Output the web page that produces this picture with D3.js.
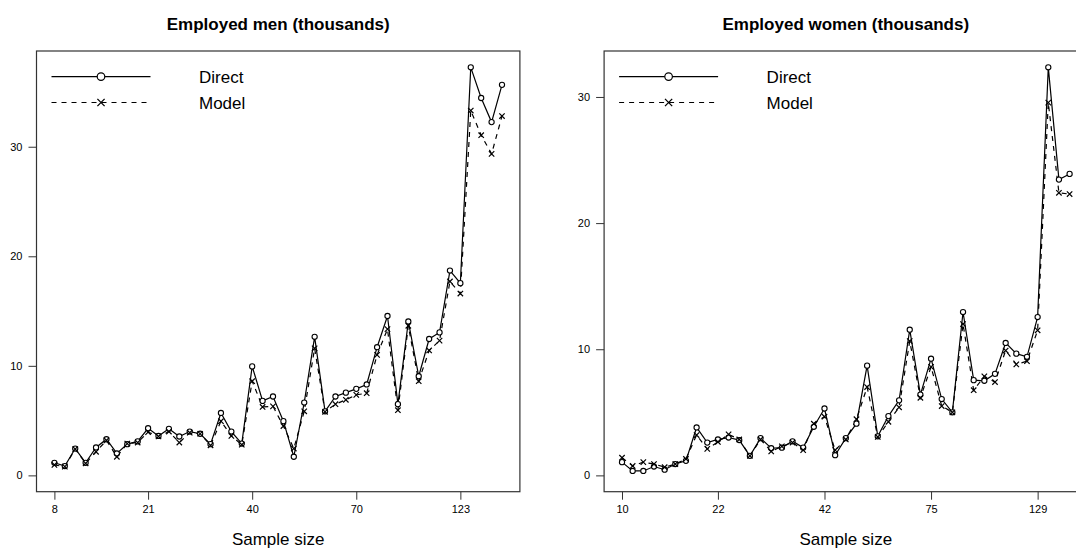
<!DOCTYPE html>
<html>
<head>
<meta charset="utf-8">
<script src="https://cdn.jsdelivr.net/npm/d3@7"></script>
<style>
  body { margin: 0; background: #fff; }
  svg { display: block; font-family: "Liberation Sans", Arial, sans-serif; }
  .line { fill: none; stroke: #000; stroke-width: 1.2; }
  .dashed { stroke-dasharray: 5,5; }
  .tick text { font-size: 11px; fill: #000; }
</style>
</head>
<body>
<div id="chart"></div>
<script>
(function employment() {

  // x axis: points are plotted by rank, a few are labelled with their sample size
  var tickIndex = [0, 9, 19, 29, 39];
  var yTicks = [0, 10, 20, 30];

  var menTickLabels = ["8", "21", "40", "70", "123"];
  var menDirect = [1.15, 0.85, 2.45, 1.15, 2.55, 3.3, 2.0, 2.85, 3.1, 4.3,
    3.6, 4.25, 3.55, 4.0, 3.8, 2.85, 5.7, 4.0, 2.9, 9.95,
    6.8, 7.2, 4.95, 1.7, 6.65, 12.65, 5.85, 7.2, 7.55, 7.9,
    8.3, 11.7, 14.55, 6.5, 14.05, 9.05, 12.45, 13.05, 18.7, 17.55,
    37.25, 34.45, 32.25, 35.65];
  var menModel = [0.95, 0.8, 2.4, 1.1, 2.15, 3.2, 1.7, 2.9, 3.0, 3.95,
    3.55, 4.0, 3.0, 3.9, 3.8, 2.75, 4.95, 3.6, 2.8, 8.6,
    6.25, 6.3, 4.5, 2.45, 5.85, 11.6, 5.8, 6.5, 6.9, 7.35,
    7.5, 11.0, 13.35, 5.95, 13.65, 8.6, 11.4, 12.3, 17.7, 16.6,
    33.3, 31.05, 29.35, 32.8];

  var womenTickLabels = ["10", "22", "42", "75", "129"];
  var womenDirect = [1.05, 0.35, 0.35, 0.7, 0.45, 0.9, 1.15, 3.8, 2.6, 2.85,
    3.0, 2.8, 1.55, 2.95, 2.15, 2.2, 2.7, 2.2, 3.85, 5.3,
    1.6, 2.95, 4.1, 8.7, 3.1, 4.7, 5.95, 11.55, 6.4, 9.25,
    6.05, 5.0, 12.95, 7.55, 7.5, 8.05, 10.5, 9.65, 9.4, 12.55,
    32.35, 23.45, 23.9];
  var womenModel = [1.4, 0.75, 1.05, 0.9, 0.65, 0.9, 1.3, 3.2, 2.1, 2.65,
    3.25, 2.85, 1.55, 2.85, 1.9, 2.3, 2.6, 2.0, 4.1, 4.65,
    2.0, 2.85, 4.45, 7.0, 3.05, 4.25, 5.4, 10.65, 6.15, 8.6,
    5.5, 5.0, 12.0, 6.75, 7.85, 7.4, 9.9, 8.8, 9.05, 11.5,
    29.55, 22.4, 22.3];

  var width = 1076,
    height = 548;

  var svg = d3.select("#chart").append("svg")
    .attr("width", width)
    .attr("height", height);

  var box = { top: 51, width: 483.4, height: 440.7 };

  function drawPanel(left, title, direct, model, tickLabels) {
    var n = direct.length;
    var pad = 0.04 * (n - 1);
    var ymax = d3.max(direct.concat(model));

    var x = d3.scaleLinear()
      .domain([-pad, n - 1 + pad])
      .range([0, box.width]);
    var y = d3.scaleLinear()
      .domain([-0.04 * ymax, ymax * 1.04])
      .range([box.height, 0]);

    var g = svg.append("g")
      .attr("transform", "translate(" + left + "," + box.top + ")");

    g.append("rect")
      .attr("width", box.width)
      .attr("height", box.height)
      .attr("fill", "none")
      .attr("stroke", "#333")
      .attr("stroke-width", 1.2);

    var xAxis = d3.axisBottom(x)
      .tickValues(tickIndex)
      .tickSize(8)
      .tickPadding(6)
      .tickFormat(function(d, i) { return tickLabels[i]; });

    var gx = g.append("g")
      .attr("transform", "translate(0," + box.height + ")")
      .call(xAxis);
    gx.select(".domain").remove();
    gx.selectAll(".tick line").attr("stroke", "#333");

    var gy = g.append("g")
      .call(d3.axisLeft(y).tickValues(yTicks).tickSize(8).tickPadding(6));
    gy.select(".domain").remove();
    gy.selectAll(".tick line").attr("stroke", "#333");

    var line = d3.line()
      .x(function(d, i) { return x(i); })
      .y(function(d) { return y(d); });

    g.append("path")
      .datum(model)
      .attr("class", "line dashed")
      .attr("d", line);

    g.append("path")
      .datum(direct)
      .attr("class", "line")
      .attr("d", line);

    g.selectAll(".dot")
      .data(direct)
      .enter()
      .append("circle")
      .attr("class", "dot")
      .attr("cx", function(d, i) { return x(i); })
      .attr("cy", function(d) { return y(d); })
      .attr("r", 2.6)
      .attr("fill", "#fff")
      .attr("stroke", "#000")
      .attr("stroke-width", 1.1);

    var s = 2.7;
    g.selectAll(".cross")
      .data(model)
      .enter()
      .append("path")
      .attr("class", "cross")
      .attr("d", function(d, i) {
        var cx = x(i), cy = y(d);
        return "M" + (cx - s) + "," + (cy - s) + "L" + (cx + s) + "," + (cy + s) +
          "M" + (cx - s) + "," + (cy + s) + "L" + (cx + s) + "," + (cy - s);
      })
      .attr("stroke", "#000")
      .attr("stroke-width", 1.2);

    // legend
    var lg = g.append("g").attr("transform", "translate(15,0)");
    var rows = [
      { label: "Direct", dy: 25.6, dash: false },
      { label: "Model", dy: 51.5, dash: true }
    ];
    rows.forEach(function(r) {
      lg.append("line")
        .attr("class", r.dash ? "line dashed" : "line")
        .attr("x1", 0).attr("x2", 99)
        .attr("y1", r.dy).attr("y2", r.dy);
      if (r.dash) {
        var c = 3.6;
        lg.append("path")
          .attr("d", "M" + (49.5 - c) + "," + (r.dy - c) + "L" + (49.5 + c) + "," + (r.dy + c) +
            "M" + (49.5 - c) + "," + (r.dy + c) + "L" + (49.5 + c) + "," + (r.dy - c))
          .attr("stroke", "#000")
          .attr("stroke-width", 1.3);
      } else {
        lg.append("circle")
          .attr("cx", 49.5).attr("cy", r.dy).attr("r", 3.8)
          .attr("fill", "#fff").attr("stroke", "#000").attr("stroke-width", 1.2);
      }
      lg.append("text")
        .attr("x", 147.5)
        .attr("y", r.dy + 6)
        .attr("font-size", "17px")
        .text(r.label);
    });

    // title and axis label
    svg.append("text")
      .attr("x", left + box.width / 2)
      .attr("y", 29.5)
      .attr("text-anchor", "middle")
      .attr("font-size", "17px")
      .attr("font-weight", "bold")
      .text(title);

    svg.append("text")
      .attr("x", left + box.width / 2)
      .attr("y", 544.5)
      .attr("text-anchor", "middle")
      .attr("font-size", "17px")
      .text("Sample size");
  }

  drawPanel(36.5, "Employed men (thousands)", menDirect, menModel, menTickLabels);
  drawPanel(604.1, "Employed women (thousands)", womenDirect, womenModel, womenTickLabels);
})();
</script>
</body>
</html>
